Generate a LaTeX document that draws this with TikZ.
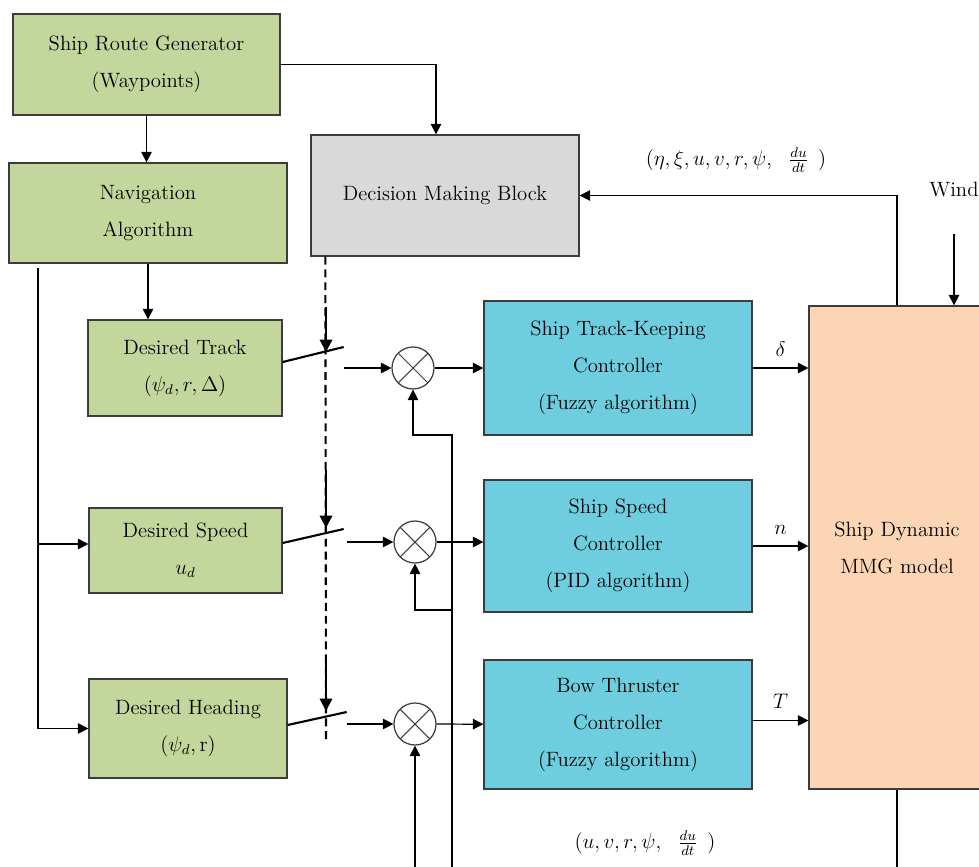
\documentclass[tikz,border=0pt]{standalone}
\usepackage{amsmath}
\usetikzlibrary{arrows.meta}

\definecolor{navgreen}{RGB}{195,214,155}
\definecolor{decgray}{RGB}{217,217,217}
\definecolor{ctrlcyan}{RGB}{110,205,222}
\definecolor{mmgpeach}{RGB}{252,213,181}
\definecolor{edgegray}{RGB}{60,60,60}

\begin{document}
\begin{tikzpicture}[x=0.02cm,y=-0.02cm,
  font=\fontsize{11.8}{21}\selectfont,
  box/.style={draw=edgegray,line width=0.75pt,align=center,inner sep=0pt},
  greenbox/.style={box,fill=navgreen},
  graybox/.style={box,fill=decgray},
  ctrlbox/.style={box,fill=ctrlcyan,minimum width=5.36cm},
  mmgbox/.style={box,fill=mmgpeach},
  mult/.style={circle,draw=edgegray,line width=0.7pt,minimum size=0.84cm,inner sep=0pt,
    path picture={\draw[edgegray,line width=0.6pt]
      (path picture bounding box.north west) -- (path picture bounding box.south east)
      (path picture bounding box.north east) -- (path picture bounding box.south west);}},
  line/.style={line width=0.7pt},
  arr/.style={line,-{Triangle[length=6pt,width=6pt]}},
  sw/.style={line width=1.2pt},
  dashline/.style={line width=1.2pt,dash pattern=on 4.5pt off 2.8pt},
  cmd/.style={line width=1.2pt,-{Triangle[length=7pt,width=7pt]}}
]

\clip (0,0) rectangle (979,866);

% left column
\node[greenbox,minimum width=5.34cm,minimum height=2.02cm] (route) at (146.5,64.5)
  {Ship Route Generator\\(Waypoints)};
\node[greenbox,minimum width=5.56cm,minimum height=2cm] (nav) at (148,213)
  {Navigation\\Algorithm};
\node[greenbox,minimum width=3.88cm,minimum height=1.92cm] (track) at (185,368)
  {Desired Track\\$(\psi_d, r, \Delta)$};
\node[greenbox,minimum width=3.86cm,minimum height=1.7cm] (speed) at (185.5,550.5)
  {Desired Speed\\$u_d$};
\node[greenbox,minimum width=3.96cm,minimum height=1.98cm] (heading) at (188,728.5)
  {Desired Heading\\$(\psi_d, \mathrm{r})$};

\node[graybox,minimum width=5.36cm,minimum height=2.42cm] (decision) at (445,195.5)
  {Decision Making Block};

% controllers
\node[ctrlbox,minimum height=2.68cm] (trackctl) at (618,368)
  {Ship Track-Keeping\\Controller\\(Fuzzy algorithm)};
\node[ctrlbox,minimum height=2.64cm] (speedctl) at (618,546)
  {Ship Speed\\Controller\\(PID algorithm)};
\node[ctrlbox,minimum height=2.58cm] (bowctl) at (618,724.5)
  {Bow Thruster\\Controller\\(Fuzzy algorithm)};

\node[mmgbox,minimum width=3.52cm,minimum height=9.66cm] (mmg) at (897,547.5)
  {Ship Dynamic\\MMG model};

% summing points
\node[mult] (m1) at (413,368) {};
\node[mult] (m2) at (415,542) {};
\node[mult] (m3) at (415,724) {};

\node (wind) at (954,190) {Wind};
\node (fbtext) at (736,160) {$(\eta, \xi, u, v, r, \psi,\;\ \frac{du}{dt}\;\,)$};
\node (stext) at (645,843) {$(u, v, r, \psi,\;\ \frac{du}{dt}\;\,)$};

\coordinate (bus) at (38,268);
\coordinate (busmid) at (38,544);
\coordinate (dend) at (326,743);
\coordinate (k1) at (326,307);
\coordinate (k2) at (326,470);
\coordinate (k3) at (326,658);
\coordinate (in1) at (344,368);
\coordinate (in2) at (347,542);
\coordinate (in3) at (347,724);
\coordinate (fbtop) at (452,435);
\coordinate (fbmid) at (452,610);
\coordinate (fbbot) at (452,870);
\coordinate (fbh) at (415,870);
\coordinate (mmgout) at (897,870);

% route and navigation
\draw[arr] (route.east) -| ([xshift=-0.18cm]decision.north);
\draw[arr] (route.south) -- (route.south |- nav.north);
\draw[arr] (nav.south) -- (nav.south |- track.north);
\draw[arr] (bus) |- (heading.west);
\draw[arr] (busmid) -- (busmid -| speed.west);

% switches
\draw[dashline] ([xshift=0.3cm]decision.south west) -- (dend);
\draw[cmd] (k1) -- (326,352);
\draw[cmd] (k2) -- (326,528);
\draw[cmd] (k3) -- (326,711);
\draw[sw] ([yshift=0.12cm]track.east) -- ++(61,-15);
\draw[sw] ([yshift=0.15cm]speed.east) -- ++(61,-14);
\draw[sw] ([yshift=0.07cm]heading.east) -- ++(59,-13);

\draw[arr] (in1) -- (m1);
\draw[arr] (in2) -- (m2);
\draw[arr] (in3) -- (m3);

\draw[arr] (m1) -- (trackctl);
\draw[arr] (m2.east) -- (m2.east -| speedctl.west);
\draw[arr] (m3) -- (bowctl);

% controller outputs
\draw[arr] (trackctl.east) -- (trackctl.east -| mmg.west) node[midway,above=3pt] {$\delta$};
\draw[arr] (speedctl.east) -- (speedctl.east -| mmg.west) node[midway,above=3pt] {$n$};
\draw[arr] ([yshift=0.08cm]bowctl.east) -- ([yshift=0.08cm]bowctl.east -| mmg.west) node[midway,above=3pt] {$T$};

% feedback
\draw[arr] (fbbot) -- (fbtop) -| (m1.south);
\draw[arr] (fbmid) -| (m2.south);
\draw[arr] (fbh) -- (m3.south);
\draw[arr] (mmg.north) |- (decision.east);
\draw[arr] ([yshift=-0.6cm]wind.south) -- (wind.south |- mmg.north);
\draw[line] (mmg.south) -- (mmgout);

\end{tikzpicture}
\end{document}
